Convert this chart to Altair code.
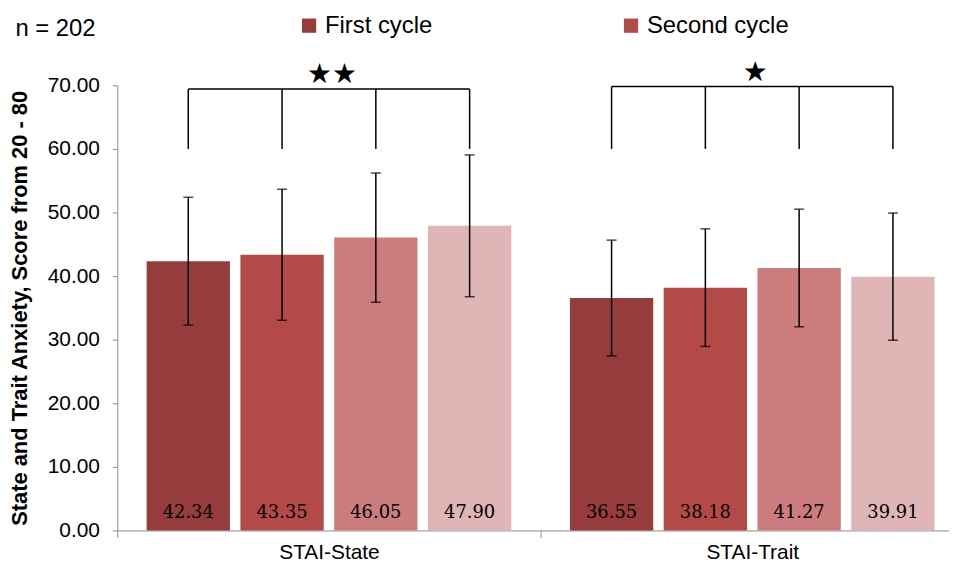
import altair as alt
import pandas as pd

groups = ["STAI-State", "STAI-Trait"]
series = ["First cycle", "Second cycle", "Third cycle", "Fourth cycle"]
colors = ["#963c3c", "#b44a48", "#cb7d7d", "#dfb5b5"]
means_state = [42.34, 43.35, 46.05, 47.90]
means_trait = [36.55, 38.18, 41.27, 39.91]
sd_state = [10.05, 10.3, 10.15, 11.15]
sd_trait = [9.1, 9.25, 9.25, 10.0]
bracket_low = [60.0, 60.0]
bracket_high = [69.4, 69.8]
stars = ["★★", "★"]
label_pos = 2.8
y_ticks = [0, 10, 20, 30, 40, 50, 60, 70]
y_title = "State and Trait Anxiety, Score from 20 - 80"

rows = []
for g, means, sds, lo, hi in zip(groups, [means_state, means_trait], [sd_state, sd_trait], bracket_low, bracket_high):
    for s, m, sd in zip(series, means, sds):
        rows.append(dict(group=g, series=s, mean=m, lo=m - sd, hi=m + sd,
                         b_lo=lo, b_hi=hi, label_y=label_pos))
df = pd.DataFrame(rows)
star_df = pd.DataFrame({"group": groups, "stars": stars, "y": bracket_high})

gray = "#8a8a8a"
x_enc = alt.X("group:N", sort=groups, title=None,
              scale=alt.Scale(range=[0, 852], paddingInner=0, paddingOuter=0),
              axis=alt.Axis(labelAngle=0, labelFontSize=21, labelFont="Liberation Sans",
                            labelColor="black", tickBand="extent", tickSize=7,
                            labelPadding=4, domainColor=gray, tickColor=gray))
xo_enc = alt.XOffset("series:N", sort=series,
                     scale=alt.Scale(paddingInner=0.1116, paddingOuter=0.3126))


def y_enc(field):
    return alt.Y(field, title=y_title,
                 scale=alt.Scale(domain=[0, 70], nice=False),
                 axis=alt.Axis(values=y_ticks, format=".2f", grid=False,
                               labelFontSize=21, labelFont="Liberation Sans",
                               labelColor="black", labelPadding=13, tickSize=5,
                               domainColor=gray, tickColor=gray,
                               titleFont="Liberation Sans", titleFontSize=22,
                               titleFontWeight="bold", titleColor="black",
                               titlePadding=16))


base = alt.Chart(df)

bars = base.mark_bar().encode(
    x=x_enc, xOffset=xo_enc, y=y_enc("mean:Q"),
    color=alt.Color("series:N", sort=series,
                    scale=alt.Scale(domain=series, range=colors),
                    legend=alt.Legend(values=series[:2], orient="none",
                                      legendX=181, legendY=-72,
                                      direction="horizontal", title=None,
                                      labelFontSize=24, labelFont="Liberation Sans",
                                      labelColor="black", symbolType="square",
                                      symbolSize=205, symbolStrokeWidth=0,
                                      labelOffset=4, columnPadding=188, padding=0)),
)

whisk = base.mark_rule(color="black", strokeWidth=1.5).encode(
    x=x_enc, xOffset=xo_enc, y=y_enc("lo:Q"), y2="hi:Q")
cap_lo = base.mark_tick(color="black", size=10, thickness=1.5, orient="horizontal").encode(
    x=x_enc, xOffset=xo_enc, y=y_enc("lo:Q"))
cap_hi = base.mark_tick(color="black", size=10, thickness=1.5, orient="horizontal").encode(
    x=x_enc, xOffset=xo_enc, y=y_enc("hi:Q"))

br_v = base.mark_rule(color="black", strokeWidth=1.5).encode(
    x=x_enc, xOffset=xo_enc, y=y_enc("b_lo:Q"), y2="b_hi:Q")
br_h = base.mark_line(color="black", strokeWidth=1.5).encode(
    x=x_enc, xOffset=xo_enc, y=y_enc("b_hi:Q"), detail="group:N")

star_txt = alt.Chart(star_df).mark_text(font="DejaVu Sans", fontSize=28,
                                        baseline="alphabetic", dy=-6, dx=3,
                                        color="black").encode(
    x=x_enc, y=y_enc("y:Q"), text="stars:N")

val_txt = base.mark_text(font="DejaVu Serif", fontSize=18, baseline="middle",
                         color="black").encode(
    x=x_enc, xOffset=xo_enc, y=y_enc("label_y:Q"),
    text=alt.Text("mean:Q", format=".2f"))

chart = alt.layer(bars, whisk, cap_lo, cap_hi, br_v, br_h, star_txt, val_txt).properties(
    width=837, height=448,
    padding={"left": 110, "top": 76, "right": 0, "bottom": 33},
    autosize=alt.AutoSizeParams(type="none"),
    title=alt.TitleParams(text="n = 202", anchor="start", frame="bounds",
                          fontSize=24, font="Liberation Sans", fontWeight="normal",
                          color="black", offset=0, dx=7, dy=46, baseline="alphabetic"),
).configure_view(stroke=None)

chart.save("out.html", embed_options={"renderer": "svg", "actions": False})
